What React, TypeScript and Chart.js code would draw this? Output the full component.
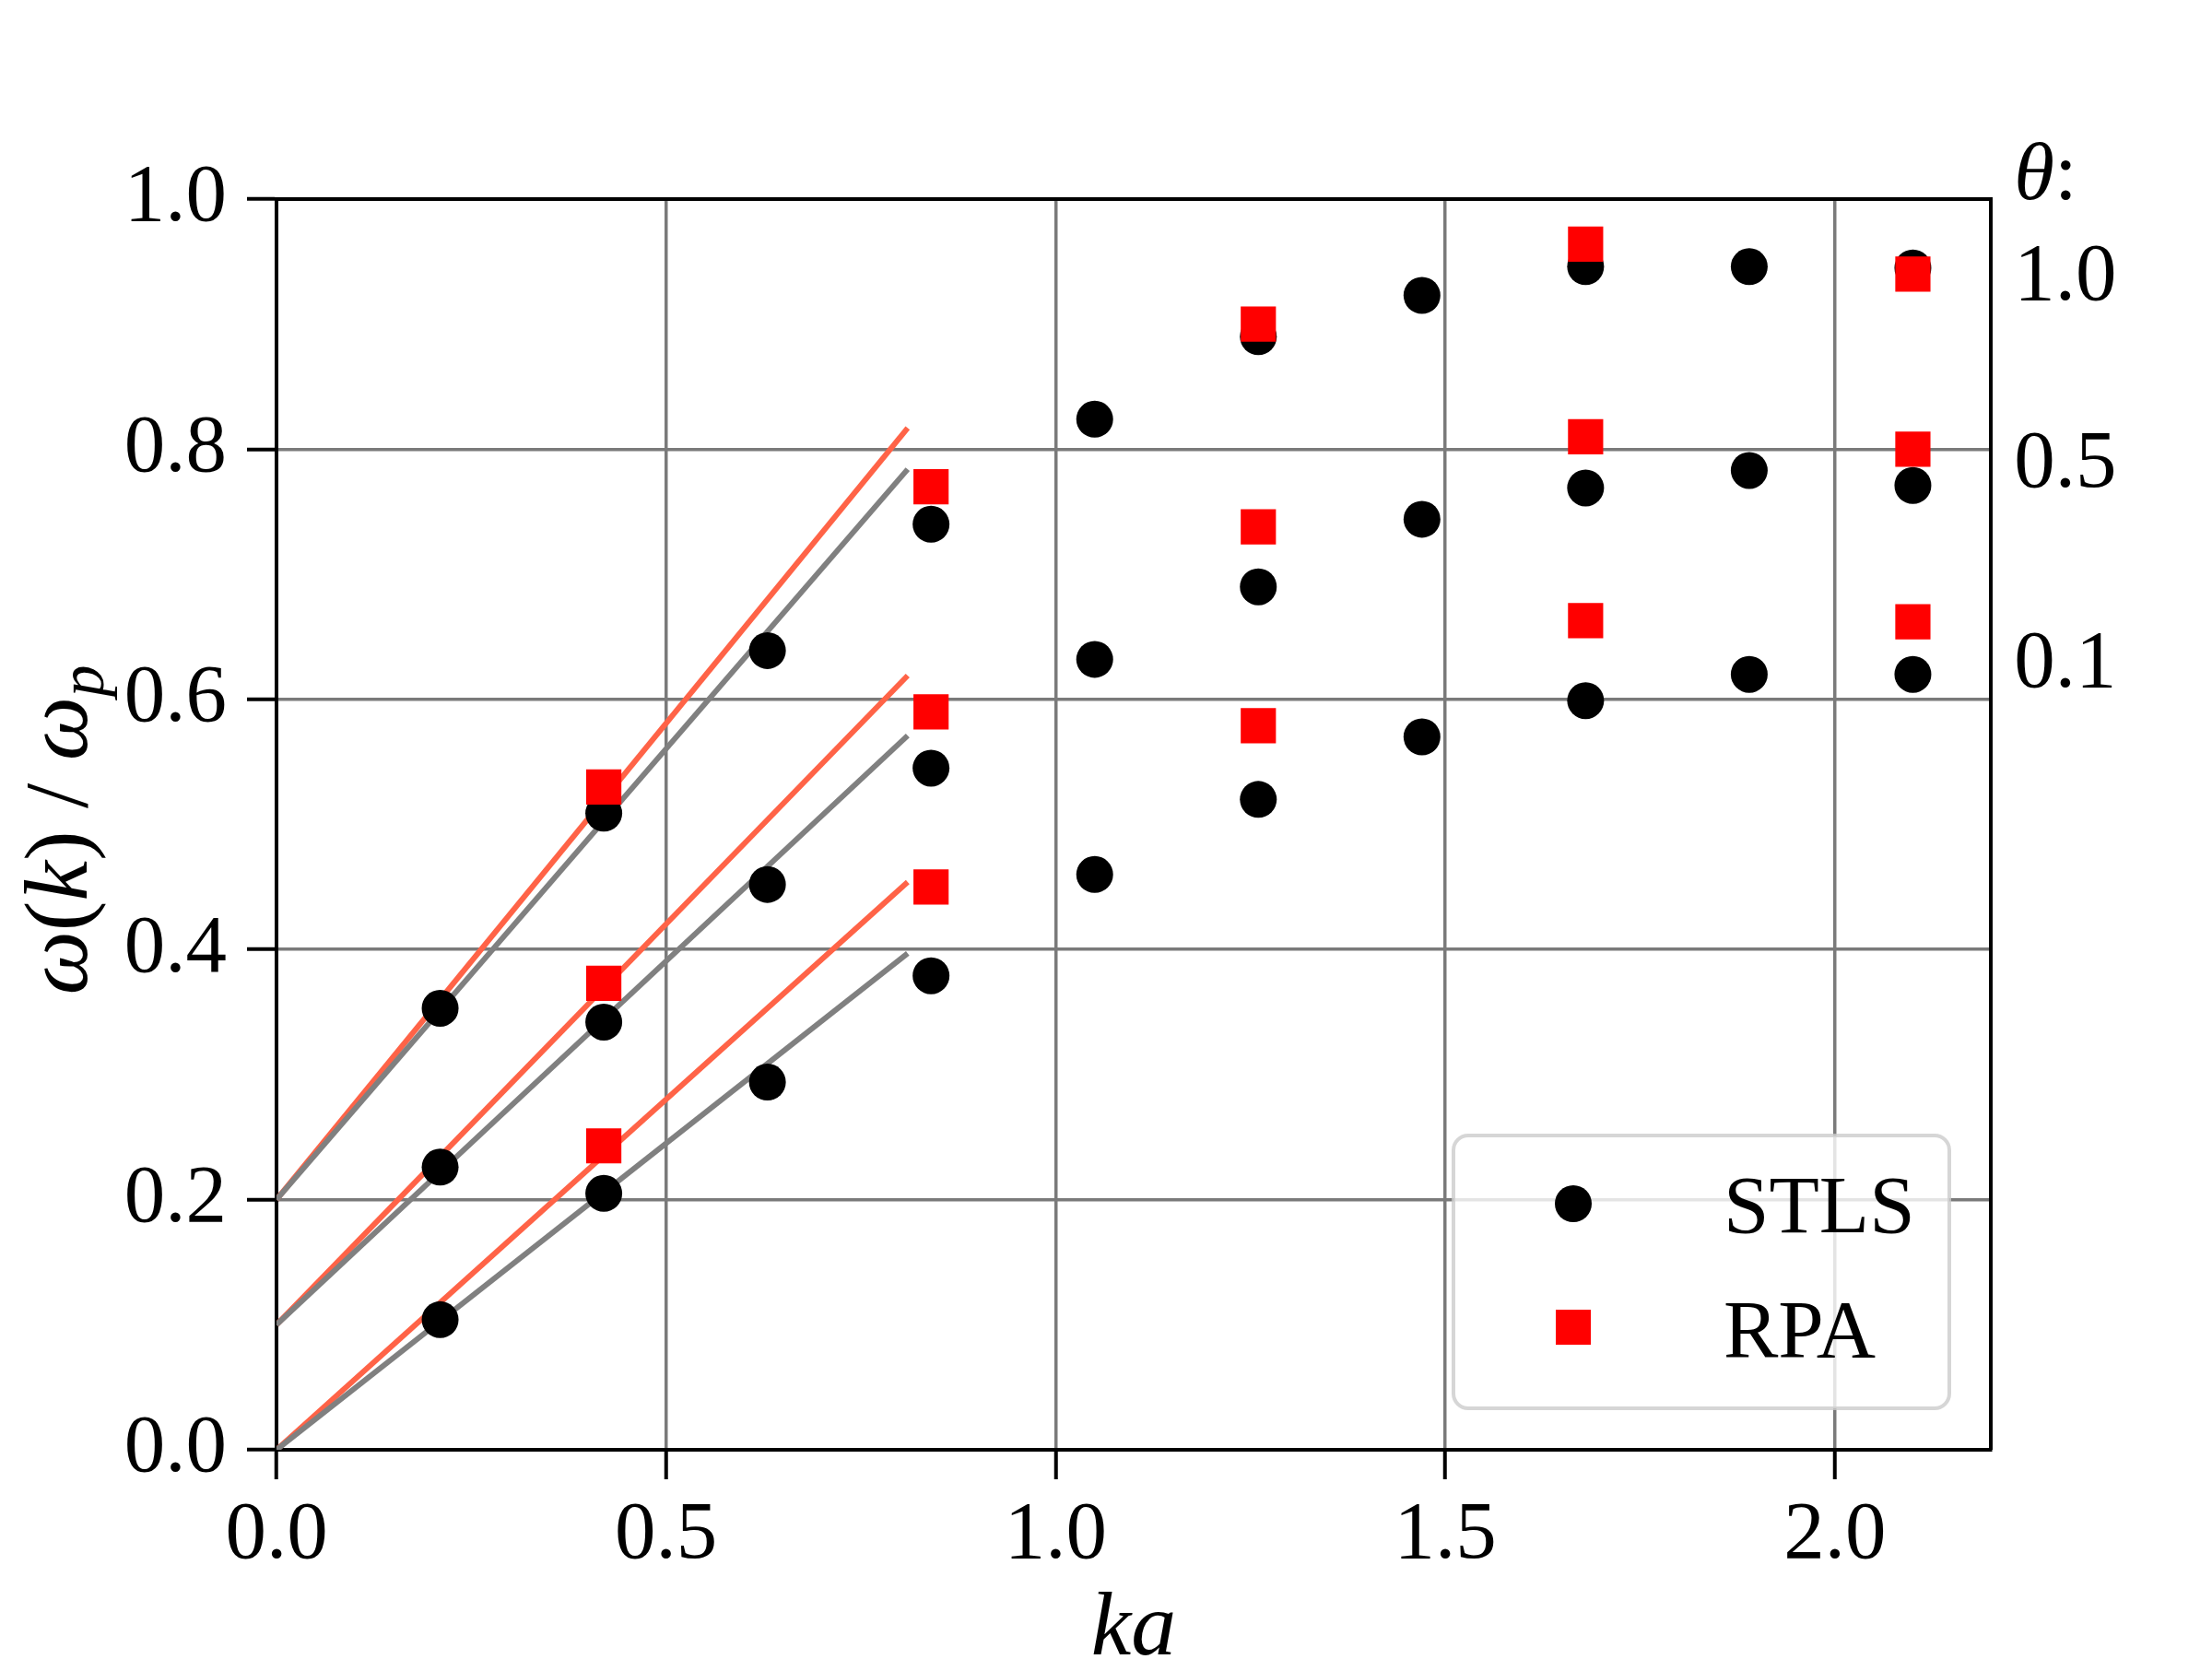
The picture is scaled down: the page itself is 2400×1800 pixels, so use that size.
import React, { useEffect, useRef } from 'react';
import { Chart, registerables } from 'chart.js';

Chart.register(...registerables);

// wave numbers ka
const ka = [0.21, 0.42, 0.63, 0.84, 1.05, 1.26, 1.47, 1.68, 1.89, 2.1];
const kaRpa = [0.42, 0.84, 1.26, 1.68, 2.1];
const kaFit = [0, 0.81];

const thetaLabels = ['1.0', '0.5', '0.1'];
const seriesNames = ['STLS', 'RPA'];

// STLS  omega(k)/omega_p, one array per theta
const stls10 = [0.353, 0.509, 0.639, 0.74, 0.824, 0.89, 0.923, 0.946, 0.946, 0.945];
const stls05 = [0.226, 0.342, 0.452, 0.545, 0.632, 0.69, 0.744, 0.769, 0.783, 0.771];
const stls01 = [0.104, 0.205, 0.294, 0.379, 0.46, 0.52, 0.57, 0.599, 0.62, 0.62];

// RPA
const rpa10 = [0.53, 0.77, 0.9, 0.964, 0.94];
const rpa05 = [0.373, 0.59, 0.738, 0.81, 0.8];
const rpa01 = [0.243, 0.45, 0.579, 0.663, 0.662];

// long wavelength lines
const stlsFit10 = [0.2, 0.784];
const stlsFit05 = [0.1, 0.571];
const stlsFit01 = [0, 0.397];
const rpaFit10 = [0.2, 0.817];
const rpaFit05 = [0.1, 0.619];
const rpaFit01 = [0, 0.454];

// where the theta annotations sit (data coords)
const thetaTextX = 2.23;
const thetaHeaderY = 1.0;
const thetaTextY = [0.92, 0.77, 0.61];

const FONT = 'Liberation Serif';
const SIZE = 89;

const pts = (xs: number[], ys: number[]) => xs.map((x, i) => ({ x, y: ys[i] }));

type Part = { t: string; it?: boolean; sub?: boolean };

function drawRich(ctx: CanvasRenderingContext2D, parts: Part[], x: number, y: number, size: number, align: 'center' | 'left') {
  const fontOf = (p: Part) => `${p.it ? 'italic ' : ''}${p.sub ? Math.round(size * 0.7) : size}px "${FONT}"`;
  const widths = parts.map((p) => {
    ctx.font = fontOf(p);
    return ctx.measureText(p.t).width;
  });
  const total = widths.reduce((a, b) => a + b, 0);
  let cx = align === 'center' ? x - total / 2 : x;
  ctx.textAlign = 'left';
  ctx.textBaseline = 'alphabetic';
  parts.forEach((p, i) => {
    ctx.font = fontOf(p);
    ctx.fillText(p.t, cx, y + (p.sub ? size * 0.18 : 0));
    cx += widths[i];
  });
}

const decorPlugin = {
  id: 'decor',
  afterDraw(chart: any) {
    const { ctx, chartArea: a, scales } = chart;
    ctx.save();
    ctx.fillStyle = '#000';

    // top and right spines
    ctx.strokeStyle = '#000';
    ctx.lineWidth = 4;
    ctx.beginPath();
    ctx.moveTo(a.left, a.top);
    ctx.lineTo(a.right, a.top);
    ctx.lineTo(a.right, a.bottom);
    ctx.stroke();

    // x title
    drawRich(ctx, [{ t: 'k', it: true }, { t: 'a', it: true }], (a.left + a.right) / 2, a.bottom + 222, 98, 'center');

    // y title
    ctx.save();
    ctx.translate(94, (a.top + a.bottom) / 2 + 6);
    ctx.rotate(-Math.PI / 2);
    drawRich(
      ctx,
      [
        { t: 'ω', it: true },
        { t: '(' },
        { t: 'k', it: true },
        { t: ')' },
        { t: ' / ' },
        { t: 'ω', it: true },
        { t: 'p', it: true, sub: true },
      ],
      0,
      0,
      98,
      'center'
    );
    ctx.restore();

    // theta annotations
    const tx = scales.x.getPixelForValue(thetaTextX);
    drawRich(ctx, [{ t: 'θ', it: true }, { t: ':' }], tx, scales.y.getPixelForValue(thetaHeaderY), SIZE, 'left');
    thetaLabels.forEach((lab, i) => {
      drawRich(ctx, [{ t: lab }], tx, scales.y.getPixelForValue(thetaTextY[i]), SIZE, 'left');
    });

    // legend, lower right
    const w = 538;
    const h = 296;
    const bx = a.right - 45 - w;
    const by = a.bottom - 45 - h;
    ctx.beginPath();
    ctx.roundRect(bx, by, w, h, 16);
    ctx.fillStyle = 'rgba(255,255,255,0.8)';
    ctx.fill();
    ctx.strokeStyle = 'rgba(204,204,204,0.8)';
    ctx.lineWidth = 4;
    ctx.stroke();

    const mx = bx + 130;
    ctx.fillStyle = '#000';
    ctx.beginPath();
    ctx.arc(mx, by + 74, 20, 0, Math.PI * 2);
    ctx.fill();
    ctx.fillStyle = '#ff0000';
    ctx.fillRect(mx - 19, by + 208 - 19, 38, 38);

    ctx.fillStyle = '#000';
    drawRich(ctx, [{ t: seriesNames[0] }], bx + 293, by + 105, SIZE, 'left');
    drawRich(ctx, [{ t: seriesNames[1] }], bx + 293, by + 240, SIZE, 'left');

    ctx.restore();
  },
};

const lineSet = (ys: number[], color: string) => ({
  data: pts(kaFit, ys),
  showLine: true,
  borderColor: color,
  borderWidth: 6,
  pointRadius: 0,
  fill: false,
  order: 3,
});

const stlsSet = (ys: number[]) => ({
  label: seriesNames[0],
  data: pts(ka, ys),
  pointStyle: 'circle',
  pointRadius: 20,
  backgroundColor: '#000000',
  borderWidth: 0,
  order: 2,
});

const rpaSet = (ys: number[]) => ({
  label: seriesNames[1],
  data: pts(kaRpa, ys),
  pointStyle: 'rect',
  pointRadius: 27,
  backgroundColor: '#ff0000',
  borderWidth: 0,
  order: 1,
});

const tickFont = { family: FONT, size: SIZE };

export default function App() {
  const chartRef = useRef<HTMLCanvasElement>(null);
  const chartInstance = useRef<Chart | null>(null);

  useEffect(() => {
    document.body.style.margin = '0';
    if (chartInstance.current) {
      chartInstance.current.destroy();
    }
    if (chartRef.current) {
      const ctx = chartRef.current.getContext('2d');
      if (ctx) {
        chartInstance.current = new Chart(ctx, {
          type: 'scatter',
          data: {
            datasets: [
              lineSet(stlsFit10, '#808080'),
              lineSet(stlsFit05, '#808080'),
              lineSet(stlsFit01, '#808080'),
              lineSet(rpaFit10, '#ff6347'),
              lineSet(rpaFit05, '#ff6347'),
              lineSet(rpaFit01, '#ff6347'),
              stlsSet(stls10),
              stlsSet(stls05),
              stlsSet(stls01),
              rpaSet(rpa10),
              rpaSet(rpa05),
              rpaSet(rpa01),
            ] as any,
          },
          options: {
            animation: false,
            responsive: true,
            maintainAspectRatio: false,
            devicePixelRatio: 1,
            layout: { padding: { left: 0, right: 240, top: 216, bottom: 0 } },
            plugins: {
              legend: { display: false },
              tooltip: { enabled: false },
            },
            scales: {
              x: {
                type: 'linear',
                min: 0,
                max: 2.2,
                afterFit: (scale: any) => {
                  scale.height = 227;
                },
                ticks: {
                  stepSize: 0.5,
                  includeBounds: false,
                  callback: (v: any) => Number(v).toFixed(1),
                  font: tickFont,
                  color: '#000',
                  padding: 8,
                  maxRotation: 0,
                },
                grid: {
                  color: '#7a7a7a',
                  lineWidth: 3.5,
                  tickColor: '#000',
                  tickWidth: 4,
                  tickLength: 32,
                },
                border: { color: '#000', width: 4 },
              },
              y: {
                type: 'linear',
                min: 0,
                max: 1,
                afterFit: (scale: any) => {
                  scale.width = 300;
                },
                ticks: {
                  stepSize: 0.2,
                  callback: (v: any) => Number(v).toFixed(1),
                  font: tickFont,
                  color: '#000',
                  padding: 22,
                },
                grid: {
                  color: '#7a7a7a',
                  lineWidth: 3.5,
                  tickColor: '#000',
                  tickWidth: 4,
                  tickLength: 32,
                },
                border: { color: '#000', width: 4 },
              },
            },
          } as any,
          plugins: [decorPlugin],
        });
      }
    }
    return () => {
      if (chartInstance.current) {
        chartInstance.current.destroy();
        chartInstance.current = null;
      }
    };
  }, []);

  return (
    <div style={{ width: '2400px', height: '1800px', position: 'relative', background: '#fff' }}>
      <canvas ref={chartRef} />
    </div>
  );
}
